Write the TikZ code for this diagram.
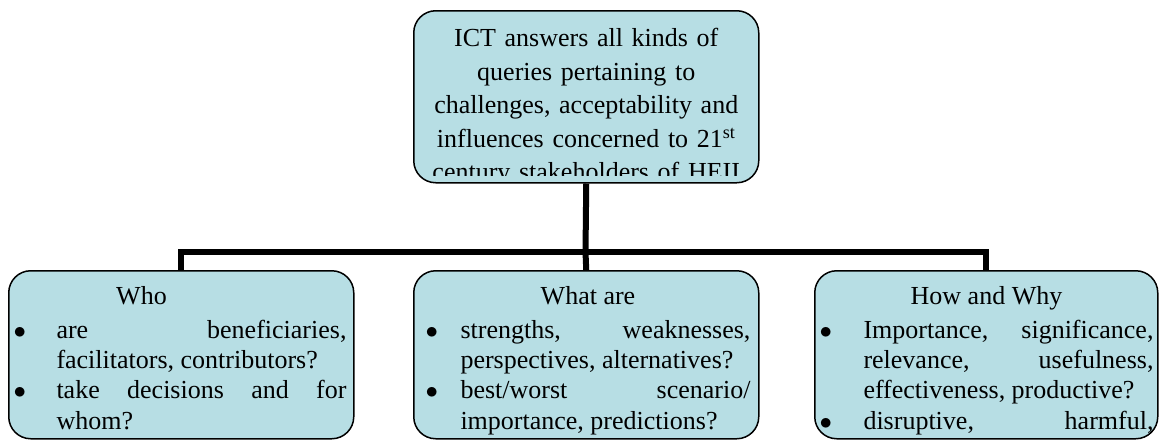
\documentclass[tikz,border=0pt]{standalone}
\usepackage{fontspec}
\setmainfont{Liberation Serif}
\definecolor{boxcyan}{RGB}{183, 222, 228}
\usetikzlibrary{positioning}
\newcommand{\qitem}[1][43pt]{\endgraf\noindent\hangindent=#1\hangafter=1\makebox[#1][l]{$\bullet$}\ignorespaces}
\newcommand{\qtitle}[1]{{\centering\noindent #1\endgraf}\vskip3.5pt}

\begin{document}
\begin{tikzpicture}[x=1pt, y=-1pt,
  qbox/.style={draw, line width=1.5pt, fill=boxcyan, rounded corners=22pt,
    minimum width=345pt, minimum height=168pt, inner sep=0pt, anchor=north west},
  qtext/.style={draw=none, fill=none, minimum width=0pt, minimum height=0pt,
    inner sep=0pt, text width=333pt, align=justify, anchor=north west,
    font=\fontsize{26}{30.3}\selectfont},
  link/.style={line width=6pt, black}]
  \useasboundingbox (0,0) rectangle (1159,439);
  \node[qbox, minimum height=172pt, path picture={
    \clip (path picture bounding box.north west) rectangle ([yshift=7pt]path picture bounding box.south east);
    \node[qtext, text width=340pt, align=center, anchor=north, font=\fontsize{26}{33.5}\selectfont]
      at ([yshift=-17pt]path picture bounding box.north)
      {ICT answers all kinds of\\ queries pertaining to\\ challenges, acceptability and\\
       influences concerned to 21\textsuperscript{st}\\ century stakeholders of HEII};}]
    (ict) at (413,10) {};
  \node[qbox, path picture={
    \node[qtext] at ([xshift=4pt, yshift=-15pt]path picture bounding box.north west)
      {\qtitle{Who\hspace*{77pt}}
       \qitem are beneficiaries,\linebreak facilitators, contributors?
       \qitem take decisions and for\linebreak whom?\endgraf};}]
    (who) at (8,270) {};
  \node[qbox, path picture={
    \node[qtext, text width=325pt] at ([xshift=11pt, yshift=-15pt]path picture bounding box.north west)
      {\qtitle{What are}
       \qitem[35pt] strengths, weaknesses,\linebreak perspectives, alternatives?
       \qitem[35pt] best/worst scenario/\linebreak importance, predictions?\endgraf};}]
    (what) at (413,270) {};
  \node[qbox, minimum width=343pt, path picture={
    \node[qtext, text width=334pt] at ([xshift=4pt, yshift=-15pt]path picture bounding box.north west)
      {\qtitle{How and Why}
       \qitem[44pt] Importance, significance,\linebreak relevance, usefulness,\linebreak effectiveness, productive?
       \qitem[44pt] disruptive,\hfill harmful,\endgraf};}]
    (how) at (814,270) {};
  \coordinate (hub) at (585.5,252);
  \draw[link] (ict.south) -- (hub);
  \draw[link] (who.north) |- (hub) -| (how.north);
  \draw[link] (hub) -- (what.north);
\end{tikzpicture}
\end{document}
